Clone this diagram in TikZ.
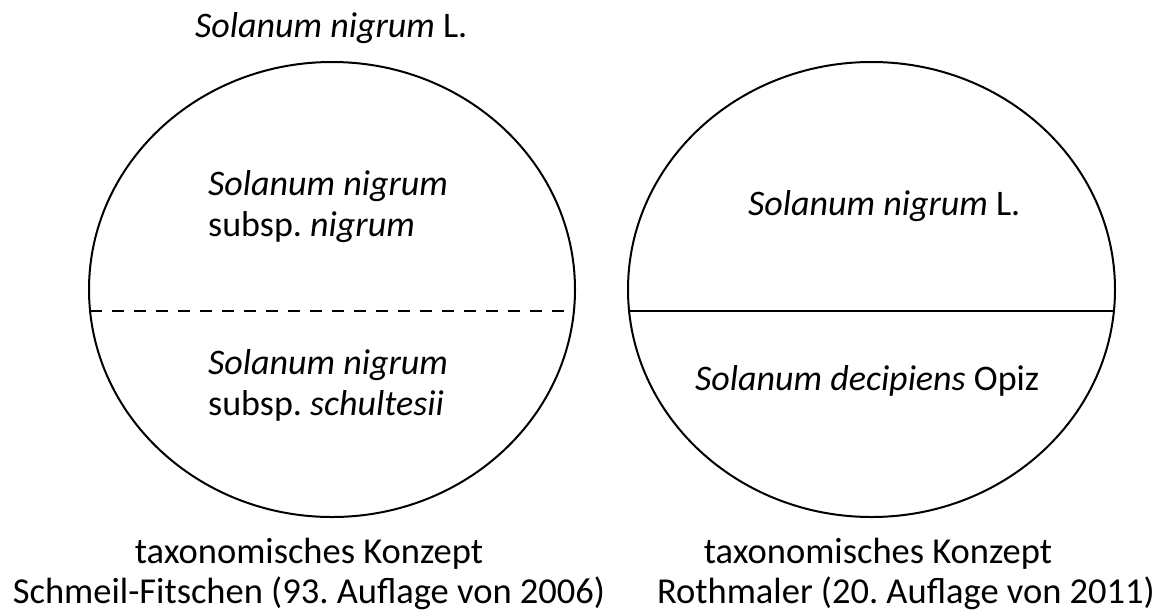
\documentclass[tikz,border=0pt]{standalone}
\usepackage{fontspec}
\setmainfont{Carlito}
\frenchspacing
\begin{document}
\begin{tikzpicture}[x=1pt,y=-1pt,
  outline/.style={line width=2pt,black},
  divider/.style={line width=2pt,black},
  inner/.style={font=\fontsize{36}{40}\selectfont,inner sep=0pt},
  caption/.style={font=\fontsize{36.5}{41}\selectfont,inner sep=0pt,anchor=base}]
\useasboundingbox (0,0) rectangle (1162,611);
% left concept
\draw[outline] (332,289.5) ellipse [x radius=243, y radius=227.5];
\coordinate (l1) at (90,311);
\coordinate (l2) at (574,311);
\draw[divider,dash pattern=on 12pt off 10pt] (l1) -- (l2);
% right concept
\draw[outline] (871.5,289.5) ellipse [x radius=243.5, y radius=227.5];
\coordinate (r1) at (629.5,311);
\coordinate (r2) at (1113.5,311);
\draw[divider] (r1) -- (r2);
% texts
\node[inner,anchor=base west] (top) at (195,37) {\textit{Solanum nigrum} L.};
\node[inner,anchor=base west] (a1) at (208,195) {\textit{Solanum nigrum}};
\node[inner,anchor=base west] (a2) at (208,236) {subsp. \textit{nigrum}};
\node[inner,anchor=base west] (b1) at (208,374) {\textit{Solanum nigrum}};
\node[inner,anchor=base west] (b2) at (208,415) {subsp. \textit{schultesii}};
\node[inner,anchor=base west] (c1) at (748,215) {\textit{Solanum nigrum} L.};
\node[inner,anchor=base west] (c2) at (695,390) {\textit{Solanum decipiens} Opiz};
\node[caption] (d1) at (309,563) {taxonomisches Konzept};
\node[caption] (d2) at (309,603) {Schmeil-Fitschen (93. Auflage von 2006)};
\node[caption] (e1) at (878,563) {taxonomisches Konzept};
\node[caption,anchor=base east] (e2) at (1155,603) {Rothmaler (20. Auflage von 2011)};
\end{tikzpicture}
\end{document}
